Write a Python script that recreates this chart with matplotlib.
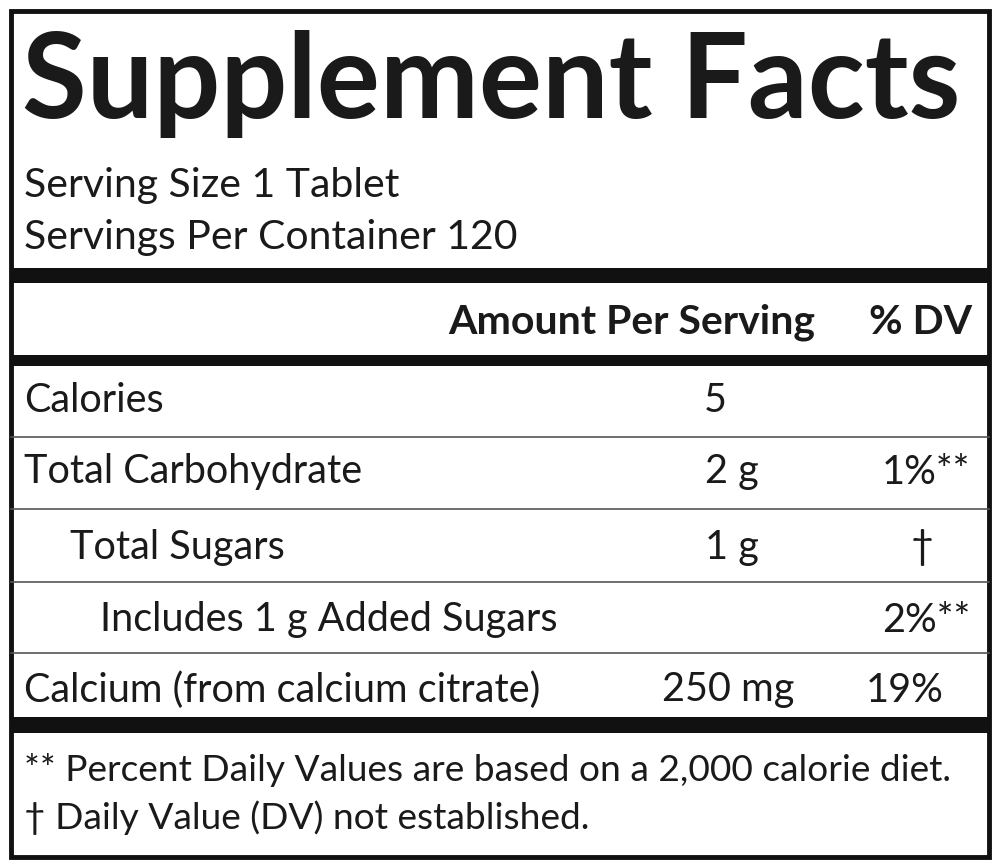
import matplotlib
matplotlib.use("Agg")
import matplotlib.pyplot as plt

title = "Supplement Facts"
serving = ["Serving Size 1 Tablet", "Servings Per Container 120"]
header = ["Amount Per Serving", "% DV"]
nutrients = ["Calories", "Total Carbohydrate", "Total Sugars", "Includes 1 g Added Sugars", "Calcium (from calcium citrate)"]
indent = [0, 0, 1, 2, 0]
amounts = ["5", "2 g", "1 g", "", "250 mg"]
dvs = ["", "1%**", "†", "2%**", "19%"]
notes = ["** Percent Daily Values are based on a 2,000 calorie diet.", "† Daily Value (DV) not established."]

FONT = ["Lato", "DejaVu Sans"]
C = "#1a1a1a"
fig = plt.figure(figsize=(10, 8.66), dpi=100)
ax = fig.add_axes([0, 0, 1, 1])
ax.set_xlim(0, 1000); ax.set_ylim(866, 0); ax.axis("off")

ax.add_patch(plt.Rectangle((11, 11), 978, 846, fill=False, lw=3.5, ec="#111"))
def bar(y0, y1):
    ax.add_patch(plt.Rectangle((11, y0), 978, y1 - y0, color="#111", lw=0))
def thin(y):
    ax.plot([11, 989], [y, y], color="#555", lw=1.2)

ax.text(22, 118, title, fontsize=85, fontweight="bold", family=FONT, va="baseline", color=C)
ax.text(24, 185, serving[0], fontsize=29.5, family=FONT, va="center", color=C)
ax.text(24, 238, serving[1], fontsize=29.5, family=FONT, va="center", color=C)
bar(268, 283)
ax.text(815, 322, header[0], fontsize=29.5, fontweight="bold", family=FONT, va="center", ha="right", color=C)
ax.text(972, 322, header[1], fontsize=29.5, fontweight="bold", family=FONT, va="center", ha="right", color=C)
bar(355, 366)

RS = 28.5
ys = [401, 472, 547, 620, 690]
seps = [437, 509, 582, 653]
amt_x = [715, 732, 732, 732, 728]
dv_spec = [(970, "right"), (970, "right"), (922, "center"), (970, "right"), (905, "center")]
xoff = [0, 0, 46, 76]
for i, name in enumerate(nutrients):
    ax.text(24 + [0, 46, 76][indent[i]], ys[i], name, fontsize=RS, family=FONT, va="center", color=C)
    ax.text(amt_x[i], ys[i], amounts[i], fontsize=RS, family=FONT, va="center", ha="center", color=C)
    x, ha = dv_spec[i]
    ax.text(x, ys[i], dvs[i], fontsize=RS, family=FONT, va="center", ha=ha, color=C)
for s in seps:
    thin(s)
bar(717, 733)
ax.text(24, 770, notes[0], fontsize=26.7, family=FONT, va="center", color=C)
ax.text(24, 818, notes[1], fontsize=26.7, family=FONT, va="center", color=C)
fig.savefig("out.png", dpi=100)
